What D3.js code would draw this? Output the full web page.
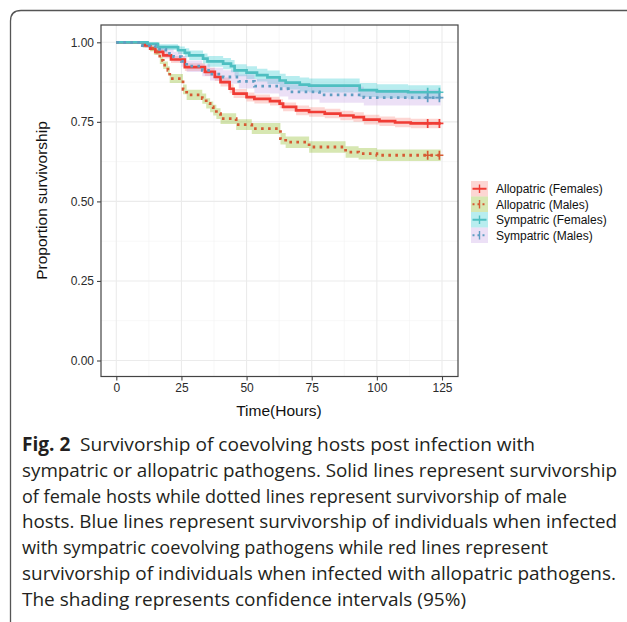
<!DOCTYPE html>
<html>
<head>
<meta charset="utf-8">
<script src="https://cdn.jsdelivr.net/npm/d3@7"></script>
<style>
  html, body { margin: 0; padding: 0; background: #fff; }
  svg { display: block; }
</style>
</head>
<body>
<svg id="chart" width="627" height="622"></svg>
<script>
// survival steps (time in hours, proportion, CI half width)
const allopF_time = [0, 11, 13, 15, 18, 21, 26.3, 34, 37.8, 40, 43.5, 45, 50, 53, 59, 62.7, 64, 69, 74, 80, 86, 91, 95, 101, 107, 113]
const allopF_surv = [1, .99, .98, .97, .959, .946, .922, .907, .891, .875, .854, .839, .828, .822, .815, .807, .797, .786, .781, .776, .77, .765, .757, .752, .748, .745]
const allopF_ci = [0, .006, .008, .009, .01, .011, .012, .013, .013, .014, .014, .014, .014, .014, .014, .014, .014, .015, .015, .015, .015, .015, .015, .015, .015, .015]

const allopM_time = [0, 10.3, 13, 14.4, 16.7, 18, 19.8, 20.5, 25.6, 27, 33, 34.5, 36, 37.2, 38.4, 40, 46, 52, 63, 65, 74, 88, 93, 100]
const allopM_surv = [1, .99, .98, .97, .943, .928, .912, .886, .852, .835, .823, .808, .797, .787, .776, .76, .741, .729, .697, .686, .671, .655, .65, .645]
const allopM_ci = [0, .006, .008, .009, .011, .012, .013, .014, .015, .016, .016, .016, .017, .017, .017, .017, .017, .017, .018, .018, .018, .018, .018, .018]

const sympF_time = [0, 12, 16, 23.7, 26.3, 28, 33.3, 35, 41, 44, 45.4, 50, 54, 58, 62.7, 65, 70.4, 74, 93.4, 100, 112]
const sympF_surv = [1, .995, .985, .975, .967, .959, .949, .94, .933, .925, .912, .905, .897, .89, .88, .873, .867, .864, .85, .846, .843]
const sympF_ci = [0, .005, .009, .012, .014, .015, .016, .017, .018, .019, .019, .02, .02, .021, .021, .021, .022, .022, .022, .022, .022]

const sympM_time = [0, 10, 15, 19, 22, 25, 27, 33, 36, 41, 47, 53, 62.5, 66, 78, 95]
const sympM_surv = [1, .99, .978, .965, .955, .94, .925, .912, .9, .891, .877, .862, .854, .844, .835, .826]
const sympM_ci = [0, .007, .011, .013, .015, .017, .018, .019, .02, .021, .022, .023, .024, .024, .025, .025]

const censorTimes = [119.5, 124]
const endTime = 124.5

const xTicks = [0, 25, 50, 75, 100, 125]
const xMinor = [12.5, 37.5, 62.5, 87.5, 112.5]
const yTicks = [0, 0.25, 0.5, 0.75, 1]
const yMinor = [0.125, 0.375, 0.625, 0.875]

const captionLines = [
    'Survivorship of coevolving hosts post infection with',
    'sympatric or allopatric pathogens. Solid lines represent survivorship',
    'of female hosts while dotted lines represent survivorship of male',
    'hosts. Blue lines represent survivorship of individuals when infected',
    'with sympatric coevolving pathogens while red lines represent',
    'survivorship of individuals when infected with allopatric pathogens.',
    'The shading represents confidence intervals (95%)'
]
const captionWidths = [513, 595, 545, 595, 526, 594, 444]

const groups = [
    { name: 'Allopatric (Females)', time: allopF_time, surv: allopF_surv, ci: allopF_ci, line: '#F03C35', fill: '#F8766D', alpha: 0.3, dotted: false },
    { name: 'Allopatric (Males)', time: allopM_time, surv: allopM_surv, ci: allopM_ci, line: '#D65A33', fill: '#7CAE00', alpha: 0.3, dotted: true },
    { name: 'Sympatric (Females)', time: sympF_time, surv: sympF_surv, ci: sympF_ci, line: '#4EBFC1', fill: '#00BFC4', alpha: 0.28, dotted: false },
    { name: 'Sympatric (Males)', time: sympM_time, surv: sympM_surv, ci: sympM_ci, line: '#5F9DC2', fill: '#B98FE0', alpha: 0.28, dotted: true }
]

const svg = d3.select('#chart')

const panel = { left: 101, right: 458, top: 25, bottom: 376.5 }
const x = d3.scaleLinear().domain([0, 125]).range([116.3, 442])
const y = d3.scaleLinear().domain([0, 1]).range([360.5, 42.3])

// outer frame of the figure
svg.append('path')
    .attr('d', 'M10.5,622 L10.5,21 Q10.5,10.5 21,10.5 L627,10.5')
    .attr('fill', 'none')
    .attr('stroke', '#555')
    .attr('stroke-width', 1.3)

// grid
const grid = svg.append('g')
grid.selectAll('.xminor').data(xMinor).join('line')
    .attr('x1', d => x(d)).attr('x2', d => x(d))
    .attr('y1', panel.top).attr('y2', panel.bottom)
    .attr('stroke', '#F2F2F2').attr('stroke-width', 0.6)
grid.selectAll('.yminor').data(yMinor).join('line')
    .attr('y1', d => y(d)).attr('y2', d => y(d))
    .attr('x1', panel.left).attr('x2', panel.right)
    .attr('stroke', '#F2F2F2').attr('stroke-width', 0.6)
grid.selectAll('.xmajor').data(xTicks).join('line')
    .attr('x1', d => x(d)).attr('x2', d => x(d))
    .attr('y1', panel.top).attr('y2', panel.bottom)
    .attr('stroke', '#EBEBEB').attr('stroke-width', 1.1)
grid.selectAll('.ymajor').data(yTicks).join('line')
    .attr('y1', d => y(d)).attr('y2', d => y(d))
    .attr('x1', panel.left).attr('x2', panel.right)
    .attr('stroke', '#EBEBEB').attr('stroke-width', 1.1)

function stepPoints(g, acc) {
    const pts = g.time.map((t, i) => ({ t: t, v: acc(i) }))
    pts.push({ t: endTime, v: acc(g.time.length - 1) })
    return pts
}

const band = d3.area()
    .curve(d3.curveStepAfter)
    .x(d => x(d.t))
    .y0(d => y(d.lo))
    .y1(d => y(d.hi))

const line = d3.line()
    .curve(d3.curveStepAfter)
    .x(d => x(d.t))
    .y(d => y(d.v))

// confidence bands
svg.append('g').selectAll('path').data(groups).join('path')
    .attr('d', g => {
        const pts = g.time.map((t, i) => ({ t: t, lo: g.surv[i] - g.ci[i], hi: Math.min(1, g.surv[i] + g.ci[i]) }))
        const last = g.time.length - 1
        pts.push({ t: endTime, lo: g.surv[last] - g.ci[last], hi: g.surv[last] + g.ci[last] })
        return band(pts)
    })
    .attr('fill', g => g.fill)
    .attr('fill-opacity', g => g.alpha)

// survival curves
svg.append('g').selectAll('path').data(groups).join('path')
    .attr('d', g => line(stepPoints(g, i => g.surv[i])))
    .attr('fill', 'none')
    .attr('stroke', g => g.line)
    .attr('stroke-width', g => g.dotted ? 2.8 : 2.7)
    .attr('stroke-dasharray', g => g.dotted ? '2.6,4.4' : null)

// censor marks
groups.forEach(g => {
    const last = g.surv[g.surv.length - 1]
    svg.append('g').selectAll('path').data(censorTimes).join('path')
        .attr('d', t => `M${x(t) - 4},${y(last)}h8M${x(t)},${y(last) - 4.5}v9`)
        .attr('stroke', g.line)
        .attr('stroke-width', 1.7)
        .attr('fill', 'none')
})

// panel border
svg.append('rect')
    .attr('x', panel.left).attr('y', panel.top)
    .attr('width', panel.right - panel.left)
    .attr('height', panel.bottom - panel.top)
    .attr('fill', 'none')
    .attr('stroke', '#444')
    .attr('stroke-width', 1.2)

// axes
const xAxis = svg.append('g')
    .attr('transform', `translate(0,${panel.bottom})`)
    .call(d3.axisBottom(x).tickValues(xTicks).tickSize(4).tickPadding(3).tickFormat(d3.format('d')))
const yAxis = svg.append('g')
    .attr('transform', `translate(${panel.left},0)`)
    .call(d3.axisLeft(y).tickValues(yTicks).tickSize(4).tickPadding(3).tickFormat(d3.format('.2f')))
;[xAxis, yAxis].forEach(a => {
    a.select('.domain').remove()
    a.selectAll('line').attr('stroke', '#444').attr('stroke-width', 1.1)
    a.selectAll('text')
        .attr('font-family', 'Liberation Sans, Arial, sans-serif')
        .attr('font-size', 12)
        .attr('fill', '#2b2b2b')
})

svg.append('text')
    .attr('x', 279).attr('y', 416)
    .attr('text-anchor', 'middle')
    .attr('font-family', 'Liberation Sans, Arial, sans-serif')
    .attr('font-size', 15.5)
    .attr('fill', '#111')
    .text('Time(Hours)')

svg.append('text')
    .attr('transform', 'translate(47,200.5) rotate(-90)')
    .attr('text-anchor', 'middle')
    .attr('font-family', 'Liberation Sans, Arial, sans-serif')
    .attr('font-size', 15.5)
    .attr('fill', '#111')
    .text('Proportion survivorship')

// legend
const legend = svg.append('g')
    .selectAll('g')
    .data(groups)
    .join('g')
    .attr('transform', (d, i) => `translate(471,${181 + i * 15.5})`)

legend.append('rect')
    .attr('width', 17).attr('height', 15.5)
    .attr('fill', d => d.fill).attr('fill-opacity', d => d.alpha)
legend.append('line')
    .attr('x1', 1.5).attr('x2', 15.5).attr('y1', 7.75).attr('y2', 7.75)
    .attr('stroke', d => d.line).attr('stroke-width', 2)
    .attr('stroke-dasharray', d => d.dotted ? '2,3' : null)
legend.append('line')
    .attr('x1', 8.5).attr('x2', 8.5).attr('y1', 3.5).attr('y2', 12)
    .attr('stroke', d => d.line).attr('stroke-width', 1.4)
legend.append('text')
    .attr('x', 25).attr('y', 12)
    .attr('font-family', 'Liberation Sans, Arial, sans-serif')
    .attr('font-size', 12)
    .attr('fill', '#111')
    .text(d => d.name)

// caption
const caption = svg.append('g')
    .attr('font-family', 'Open Sans, Noto Sans, sans-serif')
    .attr('font-size', 19)
    .attr('fill', '#231F20')
captionLines.forEach((txt, i) => {
    const t = caption.append('text')
        .attr('x', 22)
        .attr('y', 451 + i * 25.8)
        .attr('textLength', captionWidths[i])
        .attr('lengthAdjust', 'spacingAndGlyphs')
    if (i === 0) {
        t.append('tspan').attr('font-weight', 'bold').text('Fig. 2')
        t.append('tspan').text('\u2002' + txt)
    } else {
        t.text(txt)
    }
})
</script>
</body>
</html>
